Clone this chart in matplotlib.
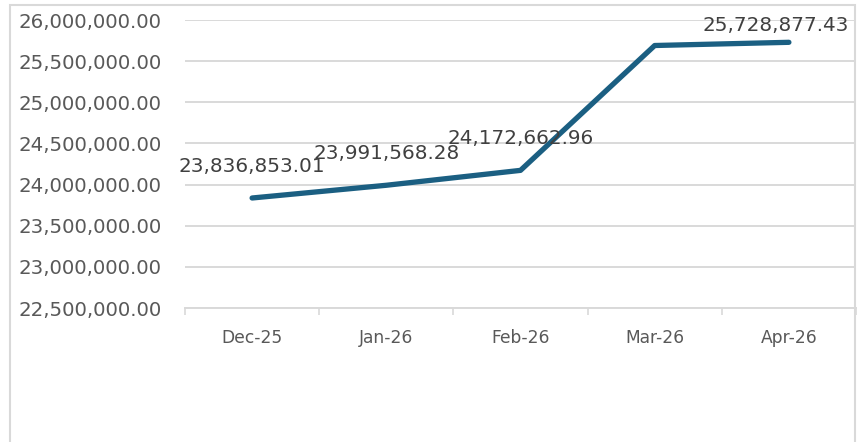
import matplotlib
matplotlib.use("Agg")
import matplotlib.pyplot as plt
from matplotlib.patches import Rectangle
from matplotlib.ticker import FuncFormatter

# data
months = ["Dec-25", "Jan-26", "Feb-26", "Mar-26", "Apr-26"]
balance = [23836853.01, 23991568.28, 24172662.96, 25690000.00, 25728877.43]
point_labels = ["23,836,853.01", "23,991,568.28", "24,172,662.96", "", "25,728,877.43"]

line_color = "#1B5F82"
grid_color = "#D9D9D9"
text_color = "#595959"

plt.rcParams["font.family"] = ["DejaVu Sans"]

fig = plt.figure(figsize=(8.57, 4.42), dpi=100)
# outer chart frame (bottom edge is cut off in the original)
fig.patches.append(Rectangle((10 / 857, -0.1), 845 / 857, 1.1 - 5 / 442,
                             transform=fig.transFigure, fill=False,
                             edgecolor=grid_color, linewidth=1.5))

ax = fig.add_axes([185 / 857, 1 - 308 / 442, 671 / 857, 288 / 442])

x = list(range(len(months)))
ax.plot(x, balance, color=line_color, linewidth=3.8, solid_capstyle="round",
        solid_joinstyle="round", zorder=3)

ax.set_xlim(-0.5, len(months) - 0.5)
ax.set_ylim(22500000, 26000000)
ax.set_yticks([22500000 + 500000 * i for i in range(8)])
ax.yaxis.set_major_formatter(FuncFormatter(lambda v, p: "{:,.2f}".format(v)))
ax.tick_params(axis="y", length=0, pad=17, labelsize=14.2, labelcolor=text_color)
ax.grid(axis="y", color=grid_color, linewidth=1.4)
ax.set_axisbelow(True)

# category boundary ticks + centred labels
ax.set_xticks([i - 0.5 for i in range(len(months) + 1)])
ax.set_xticklabels([])
ax.tick_params(axis="x", which="major", length=5, width=1.2, color=grid_color)
ax.set_xticks(x, minor=True)
ax.set_xticklabels(months, minor=True)
ax.tick_params(axis="x", which="minor", length=0, pad=15, labelsize=12.3,
               labelcolor=text_color)

for s in ["top", "right", "left"]:
    ax.spines[s].set_visible(False)
ax.spines["bottom"].set_color(grid_color)
ax.spines["bottom"].set_linewidth(1.4)

# data labels
for i, (v, lab) in enumerate(zip(balance, point_labels)):
    if not lab:
        continue
    if i == len(balance) - 1:
        ax.annotate(lab, (i, v), xytext=(43, 12), textcoords="offset points",
                    ha="right", va="center", fontsize=14.4, color="#404040")
    else:
        ax.annotate(lab, (i, v), xytext=(0, 23), textcoords="offset points",
                    ha="center", va="center", fontsize=14.4, color="#404040")

fig.savefig("out.png", dpi=100)
